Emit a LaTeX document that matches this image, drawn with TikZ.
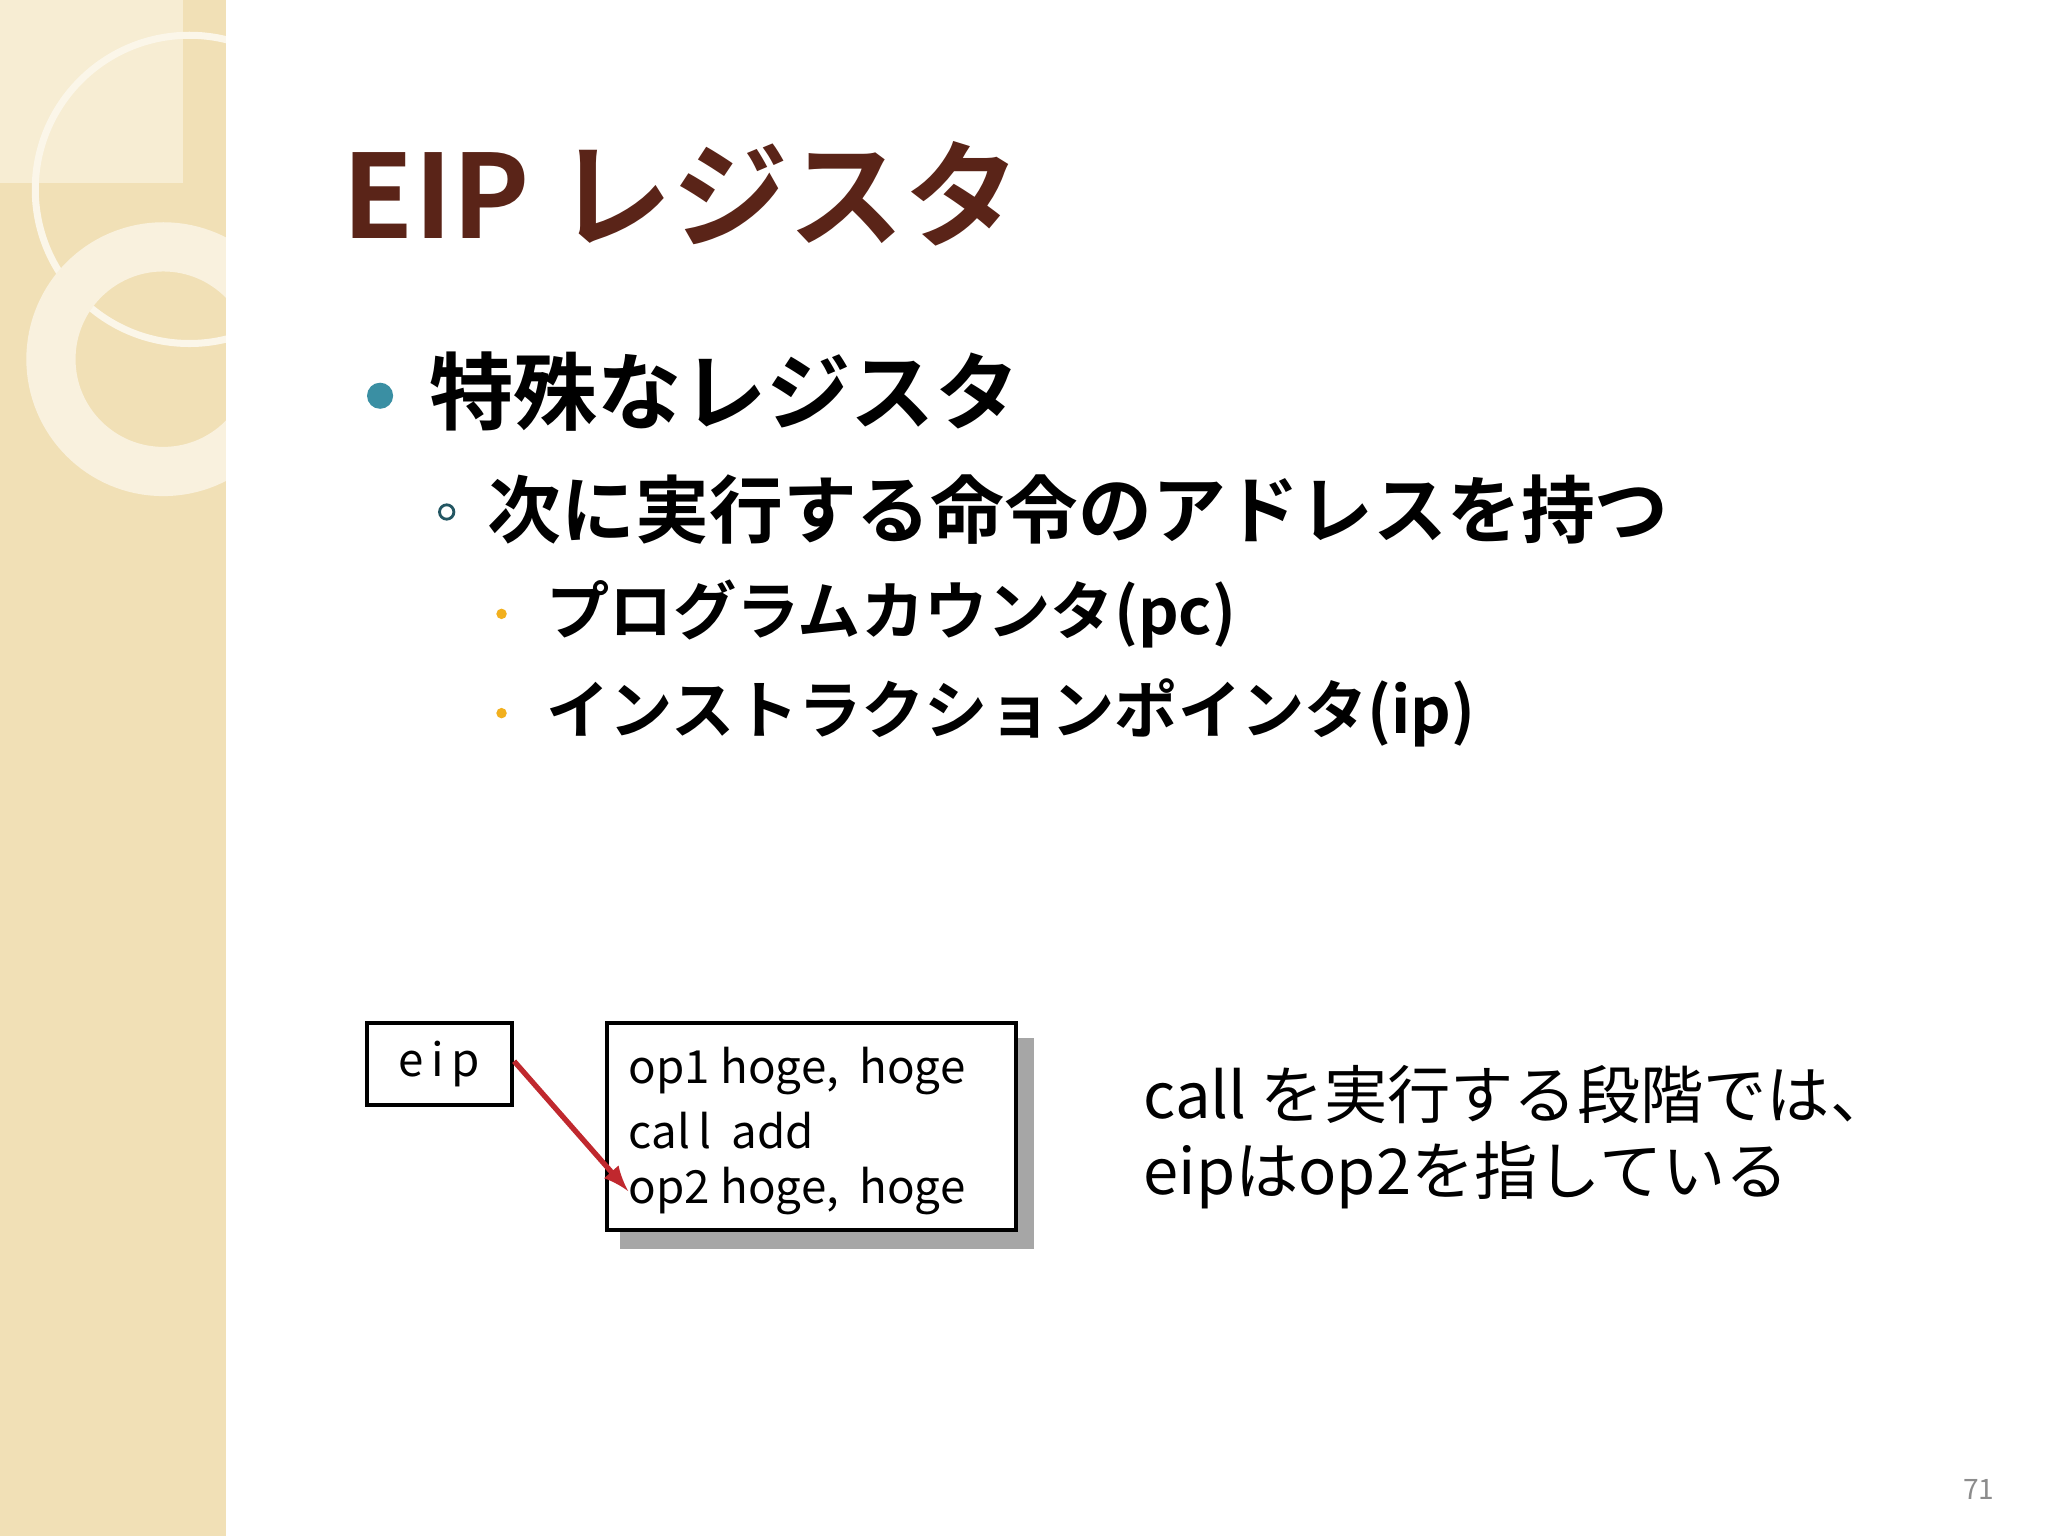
\documentclass[tikz,border=0pt]{standalone}
\usepackage{fontspec}
\setmainfont{Noto Sans CJK JP}
\newfontfamily\jpb{Noto Sans CJK JP}[BoldFont={* Bold}]
\newfontfamily\codef{Noto Sans CJK JP}
\definecolor{band}{HTML}{F1E0B6}
\definecolor{bandlt}{HTML}{F7EDD3}
\definecolor{titlec}{HTML}{5A2418}
\definecolor{teal}{HTML}{3A8FA3}
\definecolor{orng}{HTML}{F2B01E}
\definecolor{arr}{HTML}{C0282E}
\tikzset{
  regbox/.style={draw=black,line width=1.2pt,inner sep=0pt},
  code/.style={anchor=west,font=\codef\fontsize{13}{15}\selectfont,inner sep=0pt},
  body/.style={anchor=west,inner sep=0pt}
}
\begin{document}
\begin{tikzpicture}[x=0.013061cm,y=-0.013061cm]
\useasboundingbox (0,0) rectangle (1568,1176);
\fill[white] (0,0) rectangle (1568,1176);
% left band
\fill[band] (0,0) rectangle (173,1176);
\begin{scope}
\clip (0,0) rectangle (173,1176);
\fill[bandlt] (0,0) rectangle (140,140);
\draw[white!70!band,line width=2pt] (145,145) circle (118);
\draw[white!55!band,line width=14pt] (125,275) circle (86);
\end{scope}
% title
\node[body,text=titlec] (title) at (262,148) {\jpb\bfseries\fontsize{33}{36}\selectfont EIP レジスタ};
% bullets
\fill[teal] (291,303) circle (10);
\node[body] (l1) at (328,300) {\jpb\bfseries\fontsize{24}{28}\selectfont 特殊なレジスタ};
\draw[teal!60!black,line width=0.8pt] (342,392) circle (5.5);
\node[body] (l2) at (373,390) {\jpb\bfseries\fontsize{21}{25}\selectfont 次に実行する命令のアドレスを持つ};
\fill[orng] (384,470) circle (4);
\node[body] (l3) at (418,470) {\jpb\bfseries\fontsize{18}{22}\selectfont プログラムカウンタ(pc)};
\fill[orng] (384,546) circle (4);
\node[body] (l4) at (418,546) {\jpb\bfseries\fontsize{18}{22}\selectfont インストラクションポインタ(ip)};
% eip box
\node[regbox,minimum width=111*0.013061cm,minimum height=63*0.013061cm] (eip) at (336.5,814.5) {\codef\fontsize{13}{15}\selectfont e\,i\,p};
% code box with shadow
\fill[black!35] (475,795) rectangle (792,956);
\fill[white] (465,783) rectangle (778,942);
\node[regbox,minimum width=313*0.013061cm,minimum height=159*0.013061cm] (codebox) at (621.5,862.5) {};
\node[code] (c1) at (481,820) {op1 hoge,\ \ hoge};
\node[code] (c2) at (481,866) {cal\,l\ \ add};
\node[code] (c3) at (481,912) {op2 hoge,\ \ hoge};
\draw[arr,line width=1.5pt,-latex] (eip.east) ++(0,-2) -- (c3.west);
% right text
\node[body] (r1) at (875,838) {\jpb\fontsize{18}{22}\selectfont call を実行する段階では、};
\node[body] (r2) at (875,900) {\jpb\fontsize{18}{22}\selectfont eipはop2を指している};
\node[text=black!45] (pg) at (1515,1140) {\fontsize{8}{10}\selectfont 71};
\end{tikzpicture}
\end{document}
